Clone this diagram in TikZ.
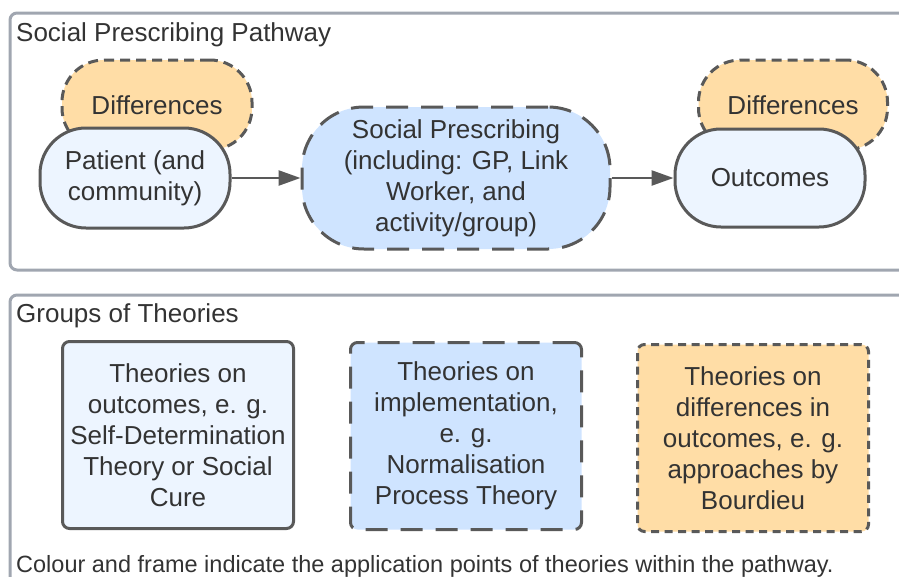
\documentclass[tikz,border=0pt]{standalone}
\usepackage{fontspec}
\setmainfont{Liberation Sans}
\usetikzlibrary{arrows.meta}
\definecolor{txt}{HTML}{333333}
\definecolor{edge}{HTML}{595959}
\definecolor{frame}{HTML}{A0A6B0}
\definecolor{lblue}{HTML}{EDF5FF}
\definecolor{mblue}{HTML}{CFE4FF}
\definecolor{orng}{HTML}{FFDDA6}
\tikzset{
  base/.style={draw=edge, line width=3pt, text=txt, align=center, inner sep=0pt,
    font=\fontsize{26}{31}\selectfont},
  shortdash/.style={dash pattern=on 10pt off 6pt},
  longdash/.style={dash pattern=on 22pt off 13pt},
  boxdash/.style={dash pattern=on 8pt off 5.5pt},
  pill/.style={base, rounded corners=42pt},
  theobox/.style={base, rounded corners=7pt, minimum width=231pt, minimum height=187pt},
  framebox/.style={draw=frame, line width=3pt, rounded corners=7pt},
  label/.style={text=txt, inner sep=0pt, font=\fontsize{26}{31}\selectfont},
  conn/.style={draw=edge, line width=2.5pt, -{Triangle[length=22pt,width=15pt]}}
}
\begin{document}
\begin{tikzpicture}[x=1pt,y=-1pt]
\useasboundingbox (0,0) rectangle (899,576);
% frames
\draw[framebox] (10,13) rectangle (912,270);
\draw[framebox] (10,295) rectangle (912,600);
\node[label, anchor=base west] (t1) at (16,41) {Social Prescribing Pathway};
\node[label, anchor=base west] (t2) at (16,322) {Groups of Theories};
\node[label, anchor=base west, font=\fontsize{23.5}{28}\selectfont] (t3) at (16,572) {Colour and frame indicate the application points of theories within the pathway.};
% pathway
\node[pill, shortdash, fill=orng, minimum width=190pt, minimum height=90pt] (d1) at (157,105) {Differences};
\node[pill, fill=lblue, minimum width=190pt, minimum height=100pt, rounded corners=46pt] (pat) at (135,178) {Patient (and\\community)};
\node[pill, longdash, fill=mblue, minimum width=308pt, minimum height=142pt, rounded corners=62pt] (sp) at (456,178) {Social Prescribing\\(including: GP, Link\\Worker, and\\activity/group)};
\node[pill, shortdash, fill=orng, minimum width=189pt, minimum height=90pt] (d2) at (793,105) {Differences};
\node[pill, fill=lblue, minimum width=190pt, minimum height=98pt, rounded corners=46pt] (out) at (770,178) {Outcomes};
\draw[conn] (pat.east) -- (sp.west);
\draw[conn] (sp.east) -- (out.west);
% theories
\node[theobox, fill=lblue] (b1) at (178,435) {Theories on\\outcomes, e. g.\\Self-Determination\\Theory or Social\\Cure};
\node[theobox, longdash, fill=mblue] (b2) at (466,436) {Theories on\\implementation,\\e. g.\\Normalisation\\Process Theory};
\node[theobox, boxdash, fill=orng] (b3) at (753,438) {Theories on\\differences in\\outcomes, e. g.\\approaches by\\Bourdieu};
\end{tikzpicture}
\end{document}
